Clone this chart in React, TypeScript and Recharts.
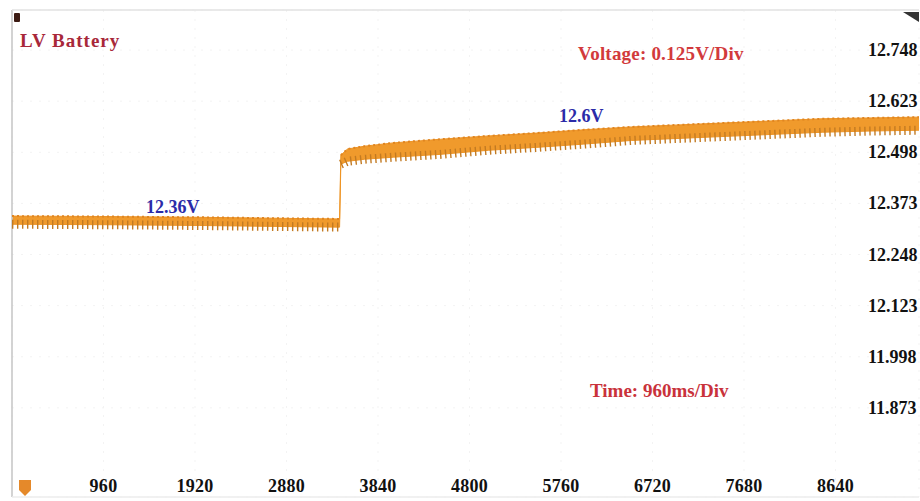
import { Area, CartesianGrid, ComposedChart, Line, ReferenceLine, XAxis, YAxis } from 'recharts';

// Time in ms (960 ms per division).
const timeMs = [0, 920, 1970, 3020, 3437, 3450, 3520, 3700, 4000, 4500, 5000, 5500, 6000, 6500, 7000, 7500, 8000, 8500, 9000, 9516];
// Upper and lower edge of the ripple band, in volts.
const upperV = [12.342, 12.341, 12.339, 12.336, 12.335, 12.491, 12.506, 12.513, 12.521, 12.530, 12.538, 12.545, 12.553, 12.560, 12.565, 12.570, 12.575, 12.580, 12.582, 12.584];
const lowerV = [12.322, 12.321, 12.319, 12.316, 12.315, 12.469, 12.476, 12.481, 12.486, 12.493, 12.503, 12.510, 12.518, 12.527, 12.532, 12.537, 12.542, 12.547, 12.550, 12.552];

const timeTicks = [960, 1920, 2880, 3840, 4800, 5760, 6720, 7680, 8640];
const voltTicks = [11.873, 11.998, 12.123, 12.248, 12.373, 12.498, 12.623, 12.748];

const data = timeMs.map((t, i) => ({ t, hi: upperV[i], lo: lowerV[i] }));
// before / after the load step, so the ripple teeth don't run up the edge
const beforeStep = data.slice(0, 5);
const afterStep = data.slice(5);

const SERIF = '"Liberation Serif", "Times New Roman", serif';

const timeTick = (props: any) => (
  <text x={props.x} y={492} textAnchor="middle" fontFamily={SERIF} fontWeight="bold" fontSize={18} fill="#111" letterSpacing={0.3}>
    {props.payload.value}
  </text>
);

const voltTick = (props: any) => (
  <text x={868} y={props.y + 6} textAnchor="start" fontFamily={SERIF} fontWeight="bold" fontSize={18} fill="#111">
    {Number(props.payload.value).toFixed(3)}
  </text>
);

const label = (color: string, size = 19): React.CSSProperties => ({
  position: 'absolute',
  fontFamily: SERIF,
  fontWeight: 'bold',
  fontSize: size,
  color,
  whiteSpace: 'nowrap',
  lineHeight: 1,
});

export default function App() {
  return (
    <div style={{ position: 'fixed', left: 0, top: 0, width: 920, height: 501, background: '#fff', overflow: 'hidden' }}>
      <ComposedChart width={920} height={501} data={data} margin={{ top: 10, right: 0, bottom: 3, left: 12 }}>
        <CartesianGrid stroke="#f3f3f3" strokeDasharray="2 7" />
        <XAxis
          dataKey="t"
          type="number"
          domain={[0, 9516]}
          ticks={timeTicks}
          height={1}
          axisLine={false}
          tickLine={false}
          tick={timeTick}
          allowDataOverflow
        />
        <YAxis
          orientation="right"
          type="number"
          domain={[11.655, 12.846]}
          ticks={voltTicks}
          width={1}
          axisLine={false}
          tickLine={false}
          tick={voltTick}
          allowDataOverflow
        />
        <ReferenceLine x={0} stroke="#c4c4c4" strokeWidth={1.5} />
        <ReferenceLine y={12.846} stroke="#e2e2e2" strokeWidth={1.5} />
        <ReferenceLine y={11.655} stroke="#ececec" strokeWidth={1.5} />
        <Area
          type="linear"
          dataKey={(d: any) => [d.lo, d.hi]}
          stroke="#ee9424"
          strokeWidth={1}
          fill="#f09a2c"
          fillOpacity={1}
          isAnimationActive={false}
        />
        {[beforeStep, afterStep].map((seg, i) => (
          <Line
            key={'lo' + i}
            data={seg}
            type="linear"
            dataKey="lo"
            stroke="#c27a22"
            strokeWidth={9}
            strokeDasharray="1.4 3.6"
            dot={false}
            isAnimationActive={false}
          />
        ))}
        {[beforeStep, afterStep].map((seg, i) => (
          <Line
            key={'hi' + i}
            data={seg}
            type="linear"
            dataKey="hi"
            stroke="#e08520"
            strokeWidth={2}
            strokeDasharray="2 3"
            dot={false}
            isAnimationActive={false}
          />
        ))}
      </ComposedChart>

      <div style={{ ...label('#a8283a'), left: 20, top: 31, letterSpacing: 1 }}>LV Battery</div>
      <div style={{ ...label('#d23a3c'), left: 578, top: 44, letterSpacing: 0.2 }}>Voltage: 0.125V/Div</div>
      <div style={{ ...label('#c9323b'), left: 590, top: 381 }}>Time: 960ms/Div</div>
      <div style={{ ...label('#2b2ba8', 18), left: 146, top: 198 }}>12.36V</div>
      <div style={{ ...label('#2b2ba8', 18), left: 559, top: 107 }}>12.6V</div>

      <svg width={920} height={501} style={{ position: 'absolute', left: 0, top: 0, pointerEvents: 'none' }}>
        <rect x={14} y={13} width={6} height={9} rx={1} fill="#3b1a12" />
        <path d="M903 12 L919 12 L919 22 Z" fill="#333" />
        <path d="M19 480 L31 480 L31 490 L25 496 L19 490 Z" fill="#e5892a" />
      </svg>
    </div>
  );
}
